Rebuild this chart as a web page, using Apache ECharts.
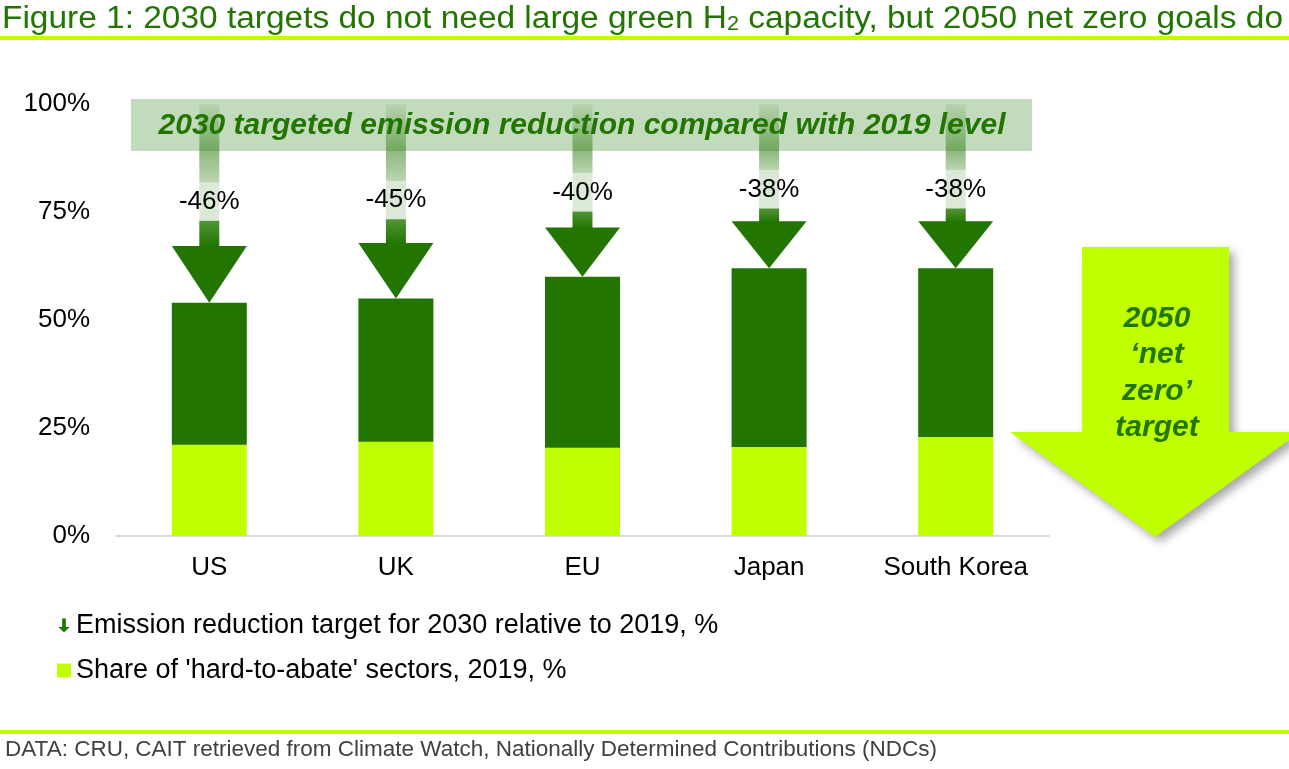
<!DOCTYPE html>
<html>
<head>
<meta charset="utf-8">
<script src="https://cdn.jsdelivr.net/npm/echarts@6/dist/echarts.min.js"></script>
<style>
  html, body { margin: 0; padding: 0; background: #fff; }
  #chart { width: 1289px; height: 769px; }
</style>
</head>
<body>
<div id="chart"></div>
<script>
  // data
  var categories = ['US', 'UK', 'EU', 'Japan', 'South Korea'];
  var reductionTarget = [-46, -45, -40, -38, -38];      // % vs 2019
  var hardToAbate = [21.1, 21.8, 20.4, 20.6, 22.9];     // share, %
  var yMax = 100, yStep = 25;

  var titleA = 'Figure 1: 2030 targets do not need large green H';
  var titleSub = '2';
  var titleB = ' capacity, but 2050 net zero goals do';
  var footText = 'DATA: CRU, CAIT retrieved from Climate Watch, Nationally Determined Contributions (NDCs)';
  var bandText = '2030 targeted emission reduction compared with 2019 level';
  var arrowName = 'Emission reduction target for 2030 relative to 2019, %';
  var shareName = "Share of 'hard-to-abate' sectors, 2019, %";

  var DARK = '#217500', LIME = '#bfff00', FONT = '"Liberation Sans", Arial, sans-serif';

  // remaining part of 2030 level above the hard-to-abate share
  var rest = hardToAbate.map(function (h, i) { return 100 + reductionTarget[i] - h; });
  var arrowData = categories.map(function (c, i) { return [i, 100 + reductionTarget[i], reductionTarget[i]]; });

  // squeeze title / footer to the widths seen in the figure
  var cv = document.createElement('canvas').getContext('2d');
  function tw(s, size) { cv.font = size + 'px ' + FONT; return cv.measureText(s).width; }
  var titleScale = 1281 / (tw(titleA, 31) + tw(titleSub, 20) + tw(titleB, 31));
  var footScale = 932 / tw(footText, 22);

  function renderArrow(params, api) {
    var i = api.value(0), top = api.value(1), red = api.value(2);
    var tip = api.coord([i, top]);
    var start = api.coord([i, yMax]);
    var base = api.coord([i, top + 0.285 * (yMax - top)])[1];   // arrow head ~28% of arrow length
    var bandBottom = api.coord([i, 89])[1];
    var cx = tip[0], half = 37.5, sw = 10;
    var labY = (bandBottom + base) / 2 + 3, boxTop = labY - 19, boxBot = labY + 19;
    var f = Math.min(0.95, Math.max(0.05, (bandBottom - start[1]) / (boxTop - start[1])));
    return {
      type: 'group',
      children: [
        { type: 'rect', shape: { x: cx - sw, y: start[1], width: sw * 2, height: boxTop - start[1] },
          style: { fill: new echarts.graphic.LinearGradient(0, 0, 0, 1, [
            { offset: 0, color: 'rgba(33,117,0,0.08)' },
            { offset: f, color: 'rgba(33,117,0,0.5)' },
            { offset: 1, color: 'rgba(33,117,0,0.3)' }]) } },
        { type: 'rect', shape: { x: cx - sw, y: boxTop, width: sw * 2, height: boxBot - boxTop },
          style: { fill: '#dbead7' } },
        { type: 'rect', shape: { x: cx - sw, y: boxBot, width: sw * 2, height: base - boxBot + 1 },
          style: { fill: new echarts.graphic.LinearGradient(0, 0, 0, 1, [
            { offset: 0, color: 'rgba(33,117,0,0.78)' },
            { offset: 1, color: DARK }]) } },
        { type: 'polygon', shape: { points: [[cx - half, base], [cx + half, base], [cx, tip[1]]] },
          style: { fill: DARK } },
        { type: 'text', x: cx, y: labY,
          style: { text: red + '%', fontSize: 26, fontFamily: FONT, fill: '#000',
                   align: 'center', verticalAlign: 'middle' } }
      ]
    };
  }

  var myChart = echarts.init(document.getElementById('chart'));
  var option = {
    animation: false,
    backgroundColor: '#fff',
    grid: { left: 116, right: 240, top: 104, bottom: 233 },
    legend: {
      orient: 'vertical',
      left: 52, top: 607,
      itemWidth: 14, itemHeight: 14, itemGap: 18,
      selectedMode: false,
      textStyle: { fontSize: 27, fontFamily: FONT, color: '#000' },
      data: [
        { name: arrowName, icon: 'path://M4,0 L8,0 L8,9 L12,9 L6,15 L0,9 L4,9 Z' },
        { name: shareName, icon: 'rect' }
      ]
    },
    xAxis: {
      type: 'category',
      data: categories,
      axisLine: { lineStyle: { color: '#d9d9d9', width: 2 } },
      axisTick: { show: false },
      axisLabel: { interval: 0, fontSize: 26, fontFamily: FONT, color: '#000', margin: 19 }
    },
    yAxis: {
      type: 'value',
      min: 0, max: yMax, interval: yStep,
      axisLine: { show: false },
      axisTick: { show: false },
      splitLine: { show: false },
      axisLabel: { formatter: '{value}%', fontSize: 26, fontFamily: FONT, color: '#000', margin: 26 }
    },
    series: [
      { name: shareName, type: 'bar', stack: 'a', barWidth: 75, data: hardToAbate,
        itemStyle: { color: LIME } },
      { name: 'rest', type: 'bar', stack: 'a', barWidth: 75, data: rest,
        itemStyle: { color: DARK } },
      { name: arrowName, type: 'custom', renderItem: renderArrow, data: arrowData,
        encode: { x: 0, y: 1 }, itemStyle: { color: DARK }, z: 3 }
    ],
    graphic: [
      { type: 'rect', z: 0, shape: { x: 0, y: 36, width: 1289, height: 4 }, style: { fill: LIME } },
      { type: 'rect', z: 0, shape: { x: 0, y: 730, width: 1289, height: 4 }, style: { fill: LIME } },
      { type: 'text', z: 5, x: 2, y: 19, scaleX: titleScale,
        style: { text: titleA + '{sub|' + titleSub + '}' + titleB, fontSize: 31, fontFamily: FONT,
                 fill: DARK, align: 'left', verticalAlign: 'middle',
                 rich: { sub: { fontSize: 20, fontFamily: FONT, fill: DARK, verticalAlign: 'bottom' } } } },
      { type: 'text', z: 5, x: 5, y: 750, scaleX: footScale,
        style: { text: footText, fontSize: 22, fontFamily: FONT, fill: '#404040',
                 align: 'left', verticalAlign: 'middle' } },
      // band across the top
      { type: 'rect', z: 1, shape: { x: 131, y: 99, width: 901, height: 52 }, style: { fill: '#c3dbbd' } },
      { type: 'text', z: 10, x: 582, y: 126,
        style: { text: bandText, fontSize: 30, fontWeight: 'bold', fontStyle: 'italic', fontFamily: FONT,
                 fill: DARK, align: 'center', verticalAlign: 'middle' } },
      // 2050 arrow on the right
      { type: 'polygon', z: 1,
        shape: { points: [[1082, 247], [1229, 247], [1229, 432], [1300, 432], [1155, 537], [1010, 432], [1082, 432]] },
        style: { fill: LIME, shadowBlur: 10, shadowOffsetX: 5, shadowOffsetY: 5, shadowColor: 'rgba(0,0,0,0.35)' } },
      { type: 'text', z: 10, x: 1157, y: 373,
        style: { text: '2050\n\u2018net\nzero\u2019\ntarget', fontSize: 30, lineHeight: 36.5, fontWeight: 'bold',
                 fontStyle: 'italic', fontFamily: FONT, fill: DARK, align: 'center', verticalAlign: 'middle' } }
    ]
  };
  myChart.setOption(option);
</script>
</body>
</html>
